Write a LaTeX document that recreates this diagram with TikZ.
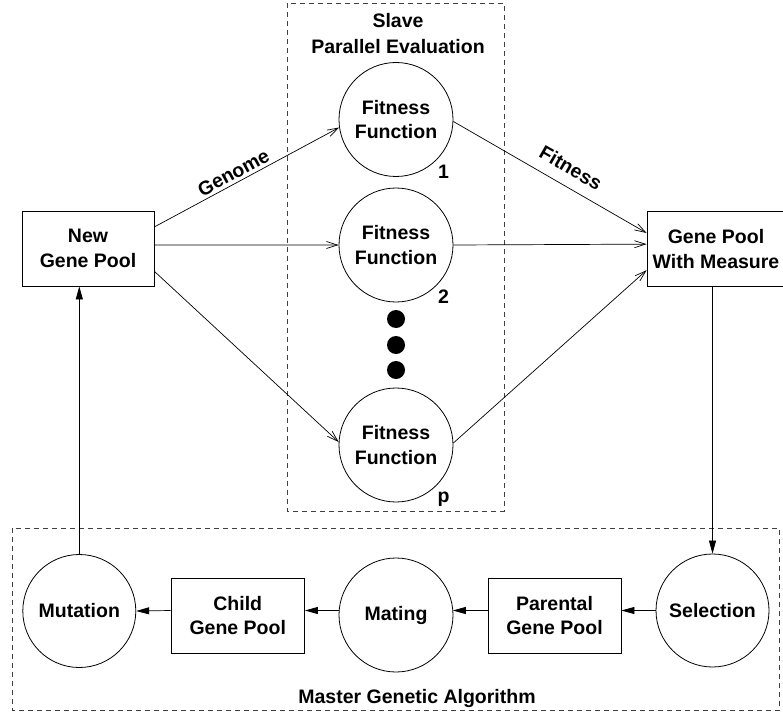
\documentclass[tikz,border=0pt]{standalone}
\usepackage{fontspec}
\setmainfont{Liberation Sans}
\usetikzlibrary{arrows.meta,calc}
\begin{document}
\begin{tikzpicture}[x=1pt,y=-1pt,
  every node/.style={font=\fontsize{19.5}{24.5}\selectfont\bfseries},
  circ/.style={circle, draw, line width=0.8pt, minimum size=114pt, inner sep=0pt, align=center},
  boxnode/.style={rectangle, draw, line width=0.8pt, minimum height=75pt, inner sep=0pt, align=center},
  dotnode/.style={circle, fill=black, minimum size=18pt, inner sep=0pt},
  dashbox/.style={draw=black!75, line width=0.8pt, dash pattern=on 5pt off 4pt},
  openarrow/.style={line width=0.7pt, -{Straight Barb[length=11pt,width=7pt,line width=0.7pt]}},
  fillarrow/.style={line width=0.7pt, -{Triangle[length=13pt,width=7pt]}},
  plainline/.style={line width=0.7pt}
]
\useasboundingbox (0,0) rectangle (783,714);

% dashed frames
\draw[dashbox] (287.5,3.5) rectangle (504,511);
\draw[dashbox] (12.5,528) rectangle (779,710.5);

% texts of the frames
\node[anchor=base] (slave) at (398,27.3) {Slave};
\node[anchor=base] (pareval) at (398,53.3) {Parallel Evaluation};
\node[anchor=base] (master) at (417,703) {Master Genetic Algorithm};

% top row
\node[boxnode, minimum width=132pt] (ngp) at (88,248.5) {New\\Gene Pool};
\node[boxnode, minimum width=138pt] (gpm) at (716,249) {Gene Pool\\With Measure};

\node[circ] (f1) at (396,119.5) {Fitness\\Function};
\node[circ] (f2) at (396,245) {Fitness\\Function};
\node[circ] (fp) at (396,445) {Fitness\\Function};

\node[anchor=base] (l1) at (443.5,178) {1};
\node[anchor=base] (l2) at (443.5,303) {2};
\node[anchor=base] (lp) at (443.5,502) {p};

\node[dotnode] (d1) at (396,319) {};
\node[dotnode] (d2) at (396,345) {};
\node[dotnode] (d3) at (396,370) {};

% bottom row
\node[circ, minimum size=113pt] (mut) at (79.3,611) {Mutation};
\node[boxnode, minimum width=133.5pt] (cgp) at (237.75,615.5) {Child\\Gene Pool};
\node[circ] (mat) at (396,615) {Mating};
\node[boxnode, minimum width=133pt] (pgp) at (554.5,615.5) {Parental\\Gene Pool};
\node[circ, minimum size=113pt] (sel) at (712.5,610.5) {Selection};

% connectors: new gene pool to fitness functions
\draw[openarrow] (ngp.18) -- node[pos=0.454, sloped, above, inner sep=3pt] (genome) {Genome} (f1.188);
\draw[openarrow] (ngp.3) -- (f2.west);
\draw[openarrow] (ngp.-19) -- (fp.177);

% fitness functions to gene pool with measure
\draw[openarrow] (f1.-2) -- node[pos=0.56, sloped, above, inner sep=11pt] (fitness) {Fitness} (gpm.167);
\draw[openarrow] (f2.east) -- (gpm.176);
\draw[openarrow] (fp.2) -- (gpm.197.7);

% vertical connectors
\draw[fillarrow] (gpm.south -| sel.north) -- (sel.north);
\draw[fillarrow] (mut.north) -- (mut.north |- ngp.south);

% bottom chain
\draw[fillarrow] (sel.west) -- (pgp.east |- sel.west);
\draw[fillarrow] (pgp.west |- sel.west) -- ($(mat.center)+(56.8,-4.5)$);
\draw[fillarrow] ($(mat.center)+(-56.8,-4.5)$) -- (cgp.east |- sel.west);
\draw[fillarrow] (cgp.west |- sel.west) -- (mut.east);
\end{tikzpicture}
\end{document}
